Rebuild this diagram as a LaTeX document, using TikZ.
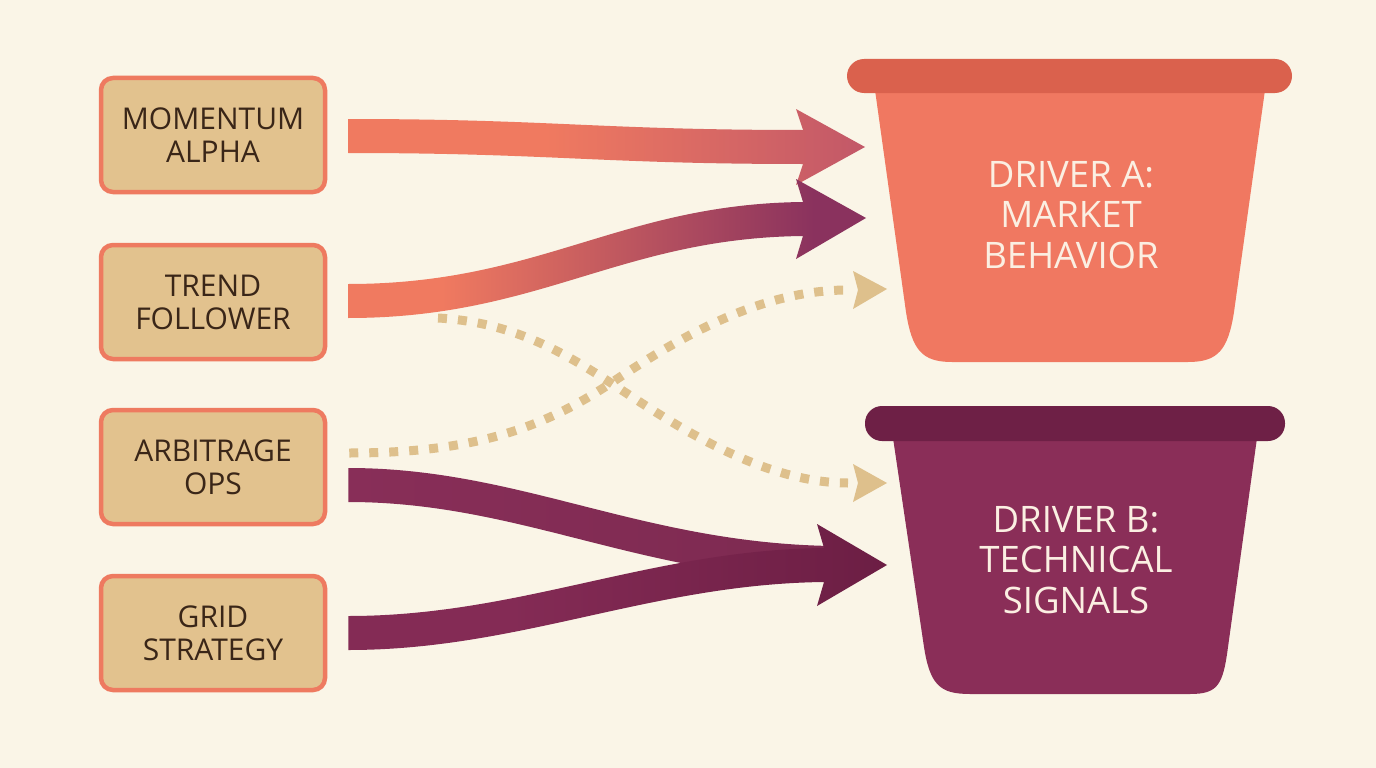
\documentclass[tikz,border=0pt]{standalone}
\usepackage{fontspec}
\setmainfont{Open Sans}
\usetikzlibrary{calc}
\definecolor{bg}{RGB}{250,245,231}
\definecolor{boxfill}{RGB}{226,194,142}
\definecolor{boxline}{RGB}{238,122,96}
\definecolor{boxtext}{RGB}{58,38,24}
\definecolor{salmon}{RGB}{240,122,96}
\definecolor{mauve}{RGB}{194,88,104}
\definecolor{plum}{RGB}{138,50,94}
\definecolor{plumB}{RGB}{136,46,88}
\definecolor{plumL}{RGB}{132,43,85}
\definecolor{plumdark}{RGB}{108,30,68}
\definecolor{dotc}{RGB}{222,192,140}
\definecolor{bucketA}{RGB}{240,120,97}
\definecolor{rimA}{RGB}{218,97,77}
\definecolor{bucketB}{RGB}{138,46,88}
\definecolor{rimB}{RGB}{110,32,70}
\definecolor{bucketText}{RGB}{251,239,226}
\pgfdeclarehorizontalshading{aoneshade}{100bp}{color(0bp)=(salmon); color(25bp)=(salmon); color(44bp)=(salmon); color(75bp)=(mauve); color(100bp)=(mauve)}
\pgfdeclarehorizontalshading{atwoshade}{100bp}{color(0bp)=(salmon); color(25bp)=(salmon); color(34bp)=(salmon); color(70bp)=(plum); color(100bp)=(plum)}
\pgfdeclarehorizontalshading{btwoshade}{100bp}{color(0bp)=(plumL); color(25bp)=(plumL); color(40bp)=(plumL); color(75bp)=(plumdark); color(100bp)=(plumdark)}
% fat body only: opts, start, c1, c2, end
\newcommand\sketchbody[5]{%
  \shade[#1] ($(#2)+(0,-17)$) .. controls ($(#3)+(0,-17)$) and ($(#4)+(0,-17)$) .. ($(#5)+(0,-17)$)
    -- ($(#5)+(0,17)$) .. controls ($(#4)+(0,17)$) and ($(#3)+(0,17)$) .. ($(#2)+(0,17)$) -- cycle;}
% fat arrow: opts, start, c1, c2, end, tip, head half width
\newcommand\sketcharrow[7]{%
  \shade[#1] ($(#2)+(0,-17)$) .. controls ($(#3)+(0,-17)$) and ($(#4)+(0,-17)$) .. ($(#5)+(0,-17)$)
    -- ($(#5)+(-7,-#7)$) -- (#6) -- ($(#5)+(-7,#7)$)
    -- ($(#5)+(0,17)$) .. controls ($(#4)+(0,17)$) and ($(#3)+(0,17)$) .. ($(#2)+(0,17)$) -- cycle;}
\begin{document}
\begin{tikzpicture}[x=1pt,y=-1pt,
  srcbox/.style={draw=boxline, fill=boxfill, line width=4.5pt, rounded corners=12pt,
    minimum width=224pt, minimum height=114pt, inner sep=0pt, align=center,
    text=boxtext, font=\fontsize{30}{33}\selectfont},
  bucketlabel/.style={inner sep=0pt, align=center, text=bucketText,
    font=\fontsize{36.5}{40.5}\selectfont},
  dotline/.style={draw=dotc, line width=9pt, dash pattern=on 9pt off 11pt, line cap=butt},
  dothead/.style={fill=dotc}]
\useasboundingbox (0,0) rectangle (1376,768);
\fill[bg] (0,0) rectangle (1376,768);

% buckets
\fill[bucketA] (875,90) -- (906,312) .. controls (912,350) and (922,362) .. (952,362)
  -- (1188,362) .. controls (1218,362) and (1228,350) .. (1234,312) -- (1265,90) -- cycle;
\fill[rimA, rounded corners=17pt] (847,59) rectangle (1292,93);
\node[bucketlabel] (ta) at (1071,215) {DRIVER A:\\MARKET\\BEHAVIOR};

\fill[bucketB] (893,438) -- (924,647) .. controls (930,685) and (940,694) .. (970,694)
  -- (1190,694) .. controls (1218,694) and (1223,685) .. (1228,647) -- (1257,438) -- cycle;
\fill[rimB, rounded corners=17pt] (865,406) rectangle (1285,441);
\node[bucketlabel] (tb) at (1076,560) {DRIVER B:\\TECHNICAL\\SIGNALS};

% source boxes
\node[srcbox] (m1) at (213,135) {MOMENTUM\\ALPHA};
\node[srcbox] (m2) at (213,302) {TREND\\FOLLOWER};
\node[srcbox] (m3) at (213,467) {ARBITRAGE\\OPS};
\node[srcbox] (m4) at (213,633) {GRID\\STRATEGY};

% connector coordinates
\coordinate (a1s) at ($(m1.east)+(21,1)$);
\coordinate (a1c1) at (550,136);
\coordinate (a1c2) at (600,147);
\coordinate (a1e) at (803,147);
\coordinate (a1t) at (865,147);

\coordinate (a2s) at ($(m2.east)+(21,-1)$);
\coordinate (a2c1) at (540,301);
\coordinate (a2c2) at (620,221);
\coordinate (a2e) at (803,219);
\coordinate (a2t) at (866,218);

\coordinate (b1s) at ($(m3.east)+(21,18)$);
\coordinate (b1c1) at (520,485);
\coordinate (b1c2) at (640,560);
\coordinate (b1e) at (832,563);

\coordinate (b2s) at ($(m4.east)+(21,0)$);
\coordinate (b2c1) at (520,633);
\coordinate (b2c2) at (650,567);
\coordinate (b2e) at (824,565);
\coordinate (b2t) at (887,565);

\coordinate (d1s) at (438,318);
\coordinate (dx) at (611,383);
\coordinate (d1e) at (848,483);
\coordinate (d1t) at (887,483);
\coordinate (d2s) at ($(m3.east)+(22,-14)$);
\coordinate (d2e) at (848,290);
\coordinate (d2t) at (887,289);

% dotted connectors
\draw[dotline] (d1s) .. controls (510,322) and (560,350) .. (dx)
  .. controls (670,422) and (760,483) .. (d1e);
\fill[dothead] ($(d1e)+(5,-19)$) -- (d1t) -- ($(d1e)+(5,19)$) -- ($(d1e)+(10,0)$) -- cycle;
\draw[dotline] (d2s) .. controls (470,453) and (540,430) .. (dx)
  .. controls (680,337) and (760,290) .. (d2e);
\fill[dothead] ($(d2e)+(5,-19)$) -- (d2t) -- ($(d2e)+(5,19)$) -- ($(d2e)+(10,0)$) -- cycle;

% fat connectors
\sketcharrow{shading=aoneshade}{a1s}{a1c1}{a1c2}{a1e}{a1t}{38}
\sketcharrow{shading=atwoshade}{a2s}{a2c1}{a2c2}{a2e}{a2t}{40}
\sketchbody{left color=plumB, right color=plumB!92!black}{b1s}{b1c1}{b1c2}{b1e}
\sketcharrow{shading=btwoshade}{b2s}{b2c1}{b2c2}{b2e}{b2t}{41}
\end{tikzpicture}
\end{document}
